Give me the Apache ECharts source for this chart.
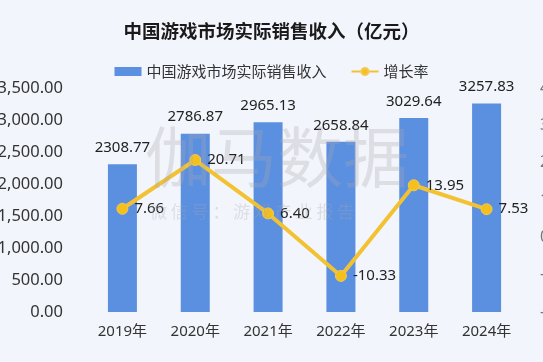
<!DOCTYPE html>
<html><head><meta charset="utf-8">
<script src="https://cdn.jsdelivr.net/npm/echarts@6/dist/echarts.min.js"></script>
<style>html,body{margin:0;padding:0;background:#f2f5fb;}#c{width:543px;height:362px;}</style>
</head><body><div id="c"></div>
<script>
const categories = ['2019年','2020年','2021年','2022年','2023年','2024年'];
const revenue = [2308.77, 2786.87, 2965.13, 2658.84, 3029.64, 3257.83];
const growth = [7.66, 20.71, 6.40, -10.33, 13.95, 7.53];
const leftTicks = {min: 0, max: 3500, interval: 500};
const rightTicks = {min: -20, max: 40, interval: 10};
const titleText = '中国游戏市场实际销售收入（亿元）';
const barName = '中国游戏市场实际销售收入';
const lineName = '增长率';

const font = '"Noto Sans", "Noto Sans CJK SC", sans-serif';
const chart = echarts.init(document.getElementById('c'));
chart.setOption({
  backgroundColor: '#f2f5fb',
  animation: false,
  title: {text: titleText, left: 'center', top: 17, textStyle: {fontSize: 18.5, fontWeight: 'bold', color: '#1a1a1a', fontFamily: '"Noto Sans CJK SC", sans-serif'}},
  legend: {top: 59, left: 'center', itemWidth: 27, itemHeight: 9, itemGap: 24,
    textStyle: {fontSize: 15, color: '#333', fontFamily: '"Noto Sans CJK SC", sans-serif'},
    data: [{name: barName, icon: 'rect'}, {name: lineName}]},
  grid: {left: 86, right: 20, top: 88, bottom: 50, containLabel: false, outerBoundsMode: 'none'},
  xAxis: {type: 'category', data: categories, axisLine: {show: false}, axisTick: {show: false},
    axisLabel: {interval: 0, fontSize: 15, color: '#333', margin: 12, fontFamily: font}},
  yAxis: [
    {type: 'value', min: leftTicks.min, max: leftTicks.max, interval: leftTicks.interval,
      splitLine: {show: false}, axisLine: {show: false}, axisTick: {show: false},
      axisLabel: {fontSize: 16.5, color: '#333', margin: 23, fontFamily: font,
        formatter: v => v.toLocaleString('en-US', {minimumFractionDigits: 2, maximumFractionDigits: 2})}},
    {type: 'value', min: rightTicks.min, max: rightTicks.max, interval: rightTicks.interval,
      splitLine: {show: false}, axisLine: {show: false}, axisTick: {show: false},
      axisLabel: {fontSize: 16, color: '#777', margin: 17, fontFamily: font,
        formatter: v => v.toFixed(2) + '%'}}
  ],
  series: [
    {name: barName, type: 'bar', data: revenue, barWidth: 29, itemStyle: {color: '#5b8fe0'},
      label: {show: true, position: 'top', distance: 9, fontSize: 15, color: '#222', fontFamily: font,
        formatter: p => p.value.toFixed(2)}},
    {name: lineName, type: 'line', yAxisIndex: 1, data: growth, symbol: 'circle', symbolSize: 11,
      lineStyle: {color: '#f3c233', width: 4}, itemStyle: {color: '#f5bf1c', borderColor: '#f3c95a', borderWidth: 1},
      label: {show: true, position: 'right', distance: 6, fontSize: 15, color: '#222', fontFamily: font,
        formatter: p => p.value.toFixed(2)}}
  ],
  graphic: [
    {type: 'text', left: 145, top: 124, z: 100, silent: true,
      style: {text: '伽马数据', fontSize: 66, fill: 'rgba(170,170,175,0.3)', fontFamily: '"Noto Sans CJK SC", sans-serif'}},
    {type: 'text', left: 150, top: 203, z: 100, silent: true,
      style: {text: '微 信 号 ： 游 戏 产 业 报 告', fontSize: 17, fill: 'rgba(170,170,175,0.3)', fontFamily: '"Noto Sans CJK SC", sans-serif'}}
  ]
});
</script></body></html>
